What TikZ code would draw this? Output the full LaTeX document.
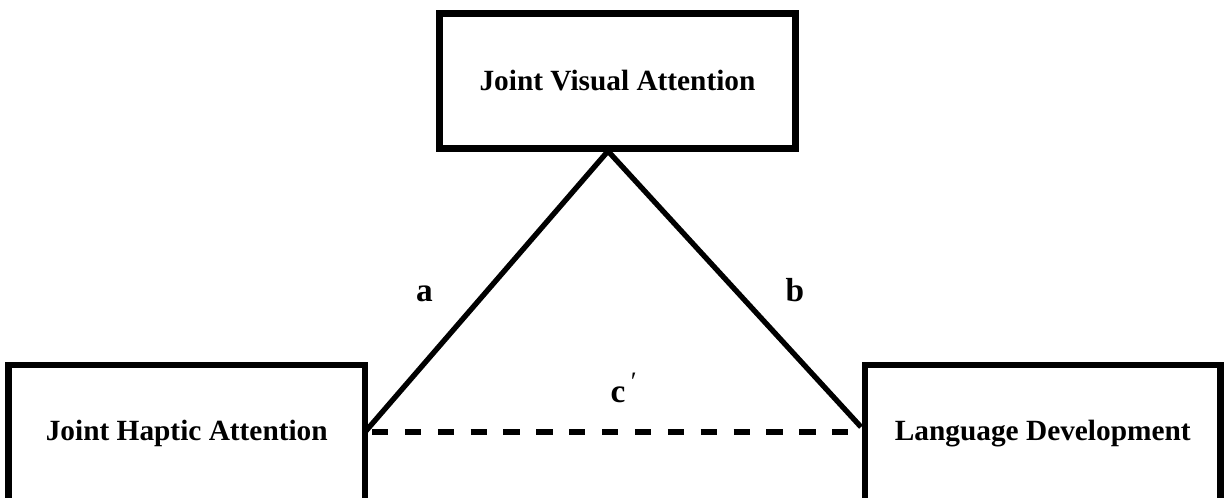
\documentclass[tikz,border=0pt]{standalone}
\usepackage{fontspec}
\setmainfont{Liberation Serif}
\usetikzlibrary{calc}
\tikzset{
  box/.style={draw=black, line width=5pt, fill=white, outer sep=0pt, inner sep=0pt,
    font=\fontsize{22pt}{26pt}\selectfont\bfseries, align=center},
  link/.style={line width=4pt, line join=round},
  dashlink/.style={line width=4.5pt, dash pattern=on 12.2pt off 12.45pt, dash phase=19.4pt},
  lab/.style={font=\fontsize{25pt}{28pt}\selectfont\bfseries, anchor=base, inner sep=0pt}
}
\begin{document}
\begin{tikzpicture}[x=0.75pt, y=-0.75pt]
\useasboundingbox (0,0) rectangle (1225,498);
\node[box, minimum width=267.3pt, minimum height=101.4pt] (jva) at (617.5,81) {Joint Visual Attention};
\node[box, minimum width=267.4pt, minimum height=105.75pt, text height=15pt, text depth=7.2pt] (jha) at (186.75,435.5) {Joint Haptic Attention};
\node[box, minimum width=266.6pt, minimum height=105.75pt, text height=15pt, text depth=7.2pt] (ld) at (1042.75,435.5) {Language Development};
\coordinate (apex) at ($(jva.south)+(-9.5,2.5)$);
\draw[link] ($(jha.east)+(0,-3.5)$) -- (apex) -- ($(ld.west)+(-4,-8.5)$);
\draw[dashlink] ($(jha.east)+(0,-3.5)$) -- ($(ld.west)+(0,-3.5)$);
\node[lab] (la) at (424.5,302) {a};
\node[lab] (lb) at (795,302) {b};
\node[lab] (lc) at (618,403) {c};
\node[anchor=base west, inner sep=0pt, font=\fontsize{20pt}{20pt}\selectfont] (lp) at ($(lc.base east)+(5,-12)$) {′};
\end{tikzpicture}
\end{document}
